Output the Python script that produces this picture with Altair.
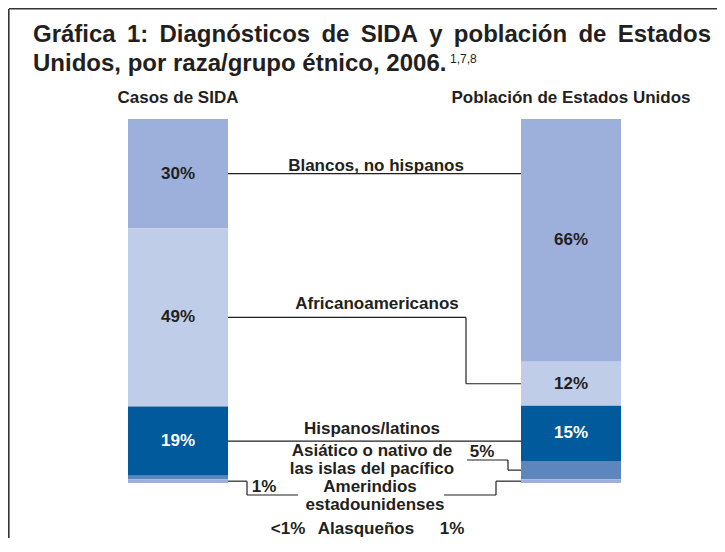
import altair as alt
import pandas as pd

# ---------------- data ----------------
groups = ["Casos de SIDA", "Población de Estados Unidos"]
categories = [
    "Blancos, no hispanos",
    "Africanoamericanos",
    "Hispanos/latinos",
    "Asiático o nativo de las islas del pacífico",
    "Amerindios estadounidenses / Alasqueños",
]
aids_values = [30, 49, 19, 1, 1]
population_values = [66, 12, 15, 5, 1]
aids_labels = ["30%", "49%", "19%", "", ""]
population_labels = ["66%", "12%", "15%", "", ""]
segment_colors = ["#9DB0DB", "#BFCDE9", "#005A9C", "#5E86BE", "#9DB0DB"]
label_colors = ["#231F20", "#231F20", "#FFFFFF", "#231F20", "#231F20"]

title_words_1 = ["Gráfica", "1:", "Diagnósticos", "de", "SIDA", "y", "población", "de", "Estados"]
title_line_2 = "Unidos, por raza/grupo étnico, 2006."
title_refs = "1,7,8"

# annotation texts (text, image x, image y)
annotations = [
    ("Blancos, no hispanos", 376, 166),
    ("Africanoamericanos", 377, 304),
    ("Hispanos/latinos", 372, 429),
    ("Asiático o nativo de", 372, 451),
    ("las islas del pacífico", 372, 469),
    ("5%", 482, 452),
    ("1%", 264, 487),
    ("Amerindios", 370, 487),
    ("estadounidenses", 375, 505),
    ("<1%", 288, 529),
    ("Alasqueños", 366, 529),
    ("1%", 452, 529),
]

# ---------------- layout ----------------
FONT = "Liberation Sans"
INK = "#231F20"
PLOT_W, PLOT_H = 493, 364
PAD_L, PAD_T = 120, 111
TOTAL_W, TOTAL_H = 709, 530
ORIGIN_X, ORIGIN_Y = PAD_L + 8, PAD_T + 8
PAD_INNER = 0.7455
STEP = PLOT_W / (2 - PAD_INNER)
BAND = STEP * (1 - PAD_INNER)
L_EDGE, R_EDGE = BAND, STEP
CENTERS = {groups[0]: BAND / 2, groups[1]: STEP + BAND / 2}
LABEL_FS = 17


def px(img_x):
    return img_x - ORIGIN_X


def pct(img_y):
    return (img_y - ORIGIN_Y) / PLOT_H * 100


Y_SCALE = alt.Scale(domain=[0, 100], reverse=True, nice=False, zero=False)

# ---------------- bar table ----------------
rows = []
mids = {}
for g, vals, labs in [(groups[0], aids_values, aids_labels), (groups[1], population_values, population_labels)]:
    total = sum(vals)
    cum = 0
    mids[g] = []
    for cat, v, lab, lc in zip(categories, vals, labs, label_colors):
        y0 = cum / total * 100
        cum += v
        y1 = cum / total * 100
        mids[g].append((y0 + y1) / 2)
        rows.append(dict(group=g, category=cat, y0=y0, y1=y1, mid=(y0 + y1) / 2,
                         label=lab, lcolor=lc, cx=CENTERS[g]))
bars_df = pd.DataFrame(rows)
lm = mids[groups[0]]
rm = mids[groups[1]]

# ---------------- connectors ----------------
segs = [
    (L_EDGE, R_EDGE, lm[0], lm[0]),
    (L_EDGE, px(466), lm[1], lm[1]),
    (px(466), px(466), lm[1], rm[1]),
    (px(466), R_EDGE, rm[1], rm[1]),
    (L_EDGE, R_EDGE, lm[2], lm[2]),
    (px(467), px(508), pct(460), pct(460)),
    (px(508), px(508), pct(460), rm[3]),
    (px(508), R_EDGE, rm[3], rm[3]),
    (L_EDGE, px(247), lm[4], lm[4]),
    (px(247), px(247), lm[4], pct(495)),
    (px(247), px(298), pct(495), pct(495)),
    (R_EDGE, px(496), rm[4], rm[4]),
    (px(496), px(496), rm[4], pct(495)),
    (px(496), px(444), pct(495), pct(495)),
]
seg_df = pd.DataFrame(segs, columns=["x", "x2", "y", "y2"])

border_df = pd.DataFrame(
    [(px(9), px(724), pct(8.8), pct(8.8)), (px(8.8), px(8.8), pct(9), pct(540))],
    columns=["x", "x2", "y", "y2"],
)

ann_df = pd.DataFrame(
    [dict(text=t, x=px(ix), y=pct(iy)) for t, ix, iy in annotations]
)

# ---------------- title (justified first line) ----------------
TITLE_FS = 24
W = {"G": 778, "r": 389, "á": 556, "f": 333, "i": 278, "c": 556, "a": 556, "1": 556, ":": 333,
     "D": 722, "g": 611, "n": 611, "ó": 611, "s": 556, "t": 333, "o": 611, "d": 611, "e": 556,
     "S": 667, "I": 278, "A": 722, "y": 556, "p": 611, "b": 611, "l": 278, "E": 667}
word_w = [sum(W[c] for c in w) / 1000 * TITLE_FS for w in title_words_1]
span = 711 - 33
gap = (span - sum(word_w)) / (len(title_words_1) - 1)
xs = []
cur = 33
for ww in word_w:
    xs.append(cur)
    cur += ww + gap
title_rows = [dict(text=w, x=px(x0), y=pct(42)) for w, x0 in zip(title_words_1, xs)]
title_rows.append(dict(text=title_line_2, x=px(33), y=pct(71)))
title_df = pd.DataFrame(title_rows)
refs_df = pd.DataFrame([dict(text=title_refs, x=px(450), y=pct(63))])

# ---------------- chart ----------------
x_band = alt.X(
    "group:N",
    sort=groups,
    scale=alt.Scale(domain=groups, paddingInner=PAD_INNER, paddingOuter=0),
    axis=alt.Axis(
        orient="top", title=None, labelAngle=0, domain=False, ticks=False, tickSize=0,
        labelPadding=17, labelBaseline="alphabetic", labelFontSize=LABEL_FS, labelLimit=0,
        labelFontWeight="bold", labelColor=INK, labelFont=FONT,
    ),
)

bars = alt.Chart(bars_df).mark_bar(strokeWidth=0).encode(
    x=x_band,
    y=alt.Y("y0:Q", scale=Y_SCALE, axis=None),
    y2="y1:Q",
    color=alt.Color("category:N", scale=alt.Scale(domain=categories, range=segment_colors), legend=None),
)

bar_labels = alt.Chart(bars_df).mark_text(
    font=FONT, fontSize=LABEL_FS, fontWeight="bold", baseline="middle", align="center"
).encode(
    x=alt.X("cx:Q", scale=None, axis=None),
    y=alt.Y("mid:Q", scale=Y_SCALE, axis=None),
    text="label:N",
    color=alt.Color("lcolor:N", scale=None),
)

connectors = alt.Chart(seg_df).mark_rule(color=INK, strokeWidth=1.2).encode(
    x=alt.X("x:Q", scale=None, axis=None),
    x2="x2:Q",
    y=alt.Y("y:Q", scale=Y_SCALE, axis=None),
    y2="y2:Q",
)

border = alt.Chart(border_df).mark_rule(color="#333333", strokeWidth=1.6).encode(
    x=alt.X("x:Q", scale=None, axis=None),
    x2="x2:Q",
    y=alt.Y("y:Q", scale=Y_SCALE, axis=None),
    y2="y2:Q",
)

ann = alt.Chart(ann_df).mark_text(
    font=FONT, fontSize=LABEL_FS, fontWeight="bold", color=INK, align="center", baseline="middle"
).encode(
    x=alt.X("x:Q", scale=None, axis=None),
    y=alt.Y("y:Q", scale=Y_SCALE, axis=None),
    text="text:N",
)

title = alt.Chart(title_df).mark_text(
    font=FONT, fontSize=TITLE_FS, fontWeight="bold", color=INK, align="left", baseline="alphabetic"
).encode(
    x=alt.X("x:Q", scale=None, axis=None),
    y=alt.Y("y:Q", scale=Y_SCALE, axis=None),
    text="text:N",
)

refs = alt.Chart(refs_df).mark_text(
    font=FONT, fontSize=12, color=INK, align="left", baseline="alphabetic"
).encode(
    x=alt.X("x:Q", scale=None, axis=None),
    y=alt.Y("y:Q", scale=Y_SCALE, axis=None),
    text="text:N",
)

chart = (
    alt.layer(bars, bar_labels, connectors, border, ann, title, refs)
    .resolve_scale(x="independent")
    .properties(
        width=PLOT_W,
        height=PLOT_H,
        padding={"left": PAD_L, "top": PAD_T, "right": TOTAL_W - PAD_L - PLOT_W,
                 "bottom": TOTAL_H - PAD_T - PLOT_H},
        autosize=alt.AutoSizeParams(type="none"),
        background="white",
    )
    .configure_view(stroke=None)
)

chart.save("out.html", embed_options={"renderer": "svg", "actions": False})
